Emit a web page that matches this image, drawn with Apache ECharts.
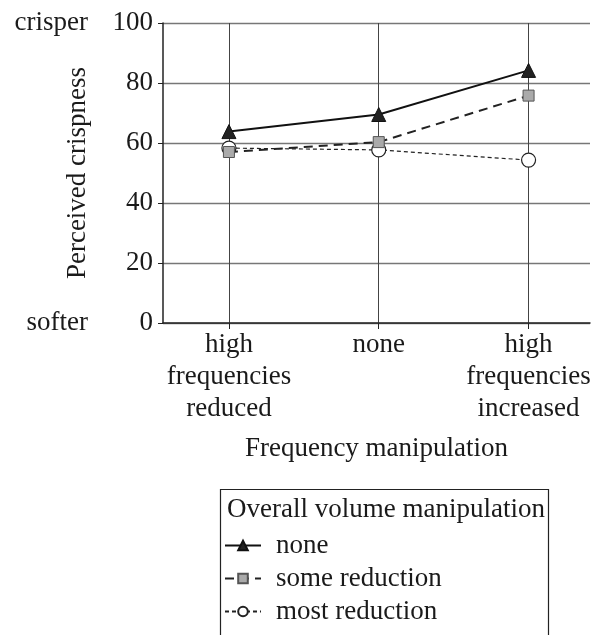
<!DOCTYPE html>
<html>
<head>
<meta charset="utf-8">
<script src="https://cdn.jsdelivr.net/npm/echarts@6/dist/echarts.min.js"></script>
<style>html,body{margin:0;padding:0;background:#fff;}#c{width:597px;height:635px;}</style>
</head>
<body>
<div id="c"></div>
<script>
const categories = ['high\nfrequencies\nreduced', 'none', 'high\nfrequencies\nincreased'];
const seriesNames = ['none', 'some reduction', 'most reduction'];
const noneVals = [63.8, 69.5, 84.2];
const someVals = [57.0, 60.3, 75.8];
const mostVals = [58.3, 57.7, 54.3];
const yTicks = [0, 20, 40, 60, 80, 100];
const endLabels = { 0: 'softer', 100: 'crisper' };

const FONT = 'Liberation Serif';
const TXT = '#1a1a1a';
const pairs = vals => categories.map((c, i) => [i, vals[i]]);

const chart = echarts.init(document.getElementById('c'), null, { renderer: 'canvas' });
chart.setOption({
  backgroundColor: '#fff',
  animation: false,
  textStyle: { fontFamily: FONT, color: TXT },
  grid: { left: 163, right: 7, top: 23, bottom: 312, containLabel: false },
  xAxis: {
    type: 'value', min: -0.44, max: 2.41,
    name: 'Frequency manipulation', nameLocation: 'middle', nameGap: 112,
    nameTextStyle: { fontFamily: FONT, fontSize: 27, color: TXT },
    axisLine: { show: true, onZero: false, lineStyle: { color: '#222', width: 1.5 } },
    axisTick: { show: true, customValues: [0, 1, 2], length: 6, lineStyle: { color: '#222' } },
    axisLabel: {
      customValues: [0, 1, 2], formatter: v => categories[Math.round(v)],
      fontFamily: FONT, fontSize: 27, lineHeight: 32, margin: 6, color: TXT
    },
    splitLine: { show: true, lineStyle: { color: '#444', width: 1 } }
  },
  yAxis: [{
    type: 'value', min: 0, max: 100, interval: 20,
    name: 'Perceived crispness', nameLocation: 'middle', nameRotate: 90, nameGap: 72,
    nameTextStyle: { fontFamily: FONT, fontSize: 27, color: TXT },
    axisLine: { show: true, onZero: false, lineStyle: { color: '#222', width: 1.5 } },
    axisTick: { show: true, length: 5, lineStyle: { color: '#222' } },
    axisLabel: { customValues: yTicks, fontFamily: FONT, fontSize: 27, margin: 10, color: TXT },
    splitLine: { show: true, lineStyle: { color: '#777', width: 1.3 } }
  }, {
    type: 'value', min: 0, max: 100, interval: 100, position: 'left', offset: 67,
    axisLine: { show: false, onZero: false }, axisTick: { show: false }, splitLine: { show: false },
    axisLabel: { formatter: v => endLabels[v] || '', fontFamily: FONT, fontSize: 27, margin: 8, color: TXT }
  }],
  title: {
    text: 'Overall volume manipulation', left: 227, top: 496,
    padding: 0,
    textStyle: { fontFamily: FONT, fontSize: 27, fontWeight: 'normal', color: TXT }
  },
  legend: {
    orient: 'vertical', left: 224, top: 532, padding: 0,
    itemWidth: 36, itemHeight: 12, itemGap: 6,
    data: seriesNames,
    textStyle: { fontFamily: FONT, fontSize: 27, lineHeight: 27, color: TXT, padding: [0, 0, 0, 10] }
  },
  graphic: [{
    type: 'rect', left: 218, top: 487, silent: true,
    shape: { width: 328, height: 200 },
    style: { fill: 'none', stroke: '#222', lineWidth: 1.2 }
  }],
  series: [{
    name: seriesNames[0], type: 'line', data: pairs(noneVals),
    lineStyle: { color: '#111', width: 2, type: 'solid' },
    symbol: 'triangle', symbolSize: 14,
    itemStyle: { color: '#222', borderColor: '#111', borderWidth: 1 }, z: 5
  }, {
    name: seriesNames[1], type: 'line', data: pairs(someVals),
    lineStyle: { color: '#222', width: 2, type: [9, 6] },
    symbol: 'rect', symbolSize: 11,
    itemStyle: { color: '#aaa', borderColor: '#555', borderWidth: 1 }, z: 4
  }, {
    name: seriesNames[2], type: 'line', data: pairs(mostVals),
    lineStyle: { color: '#222', width: 1.2, type: [4, 3] },
    symbol: 'circle', symbolSize: 14,
    itemStyle: { color: '#fff', borderColor: '#222', borderWidth: 1.2 }, z: 3
  }]
});
</script>
</body>
</html>
